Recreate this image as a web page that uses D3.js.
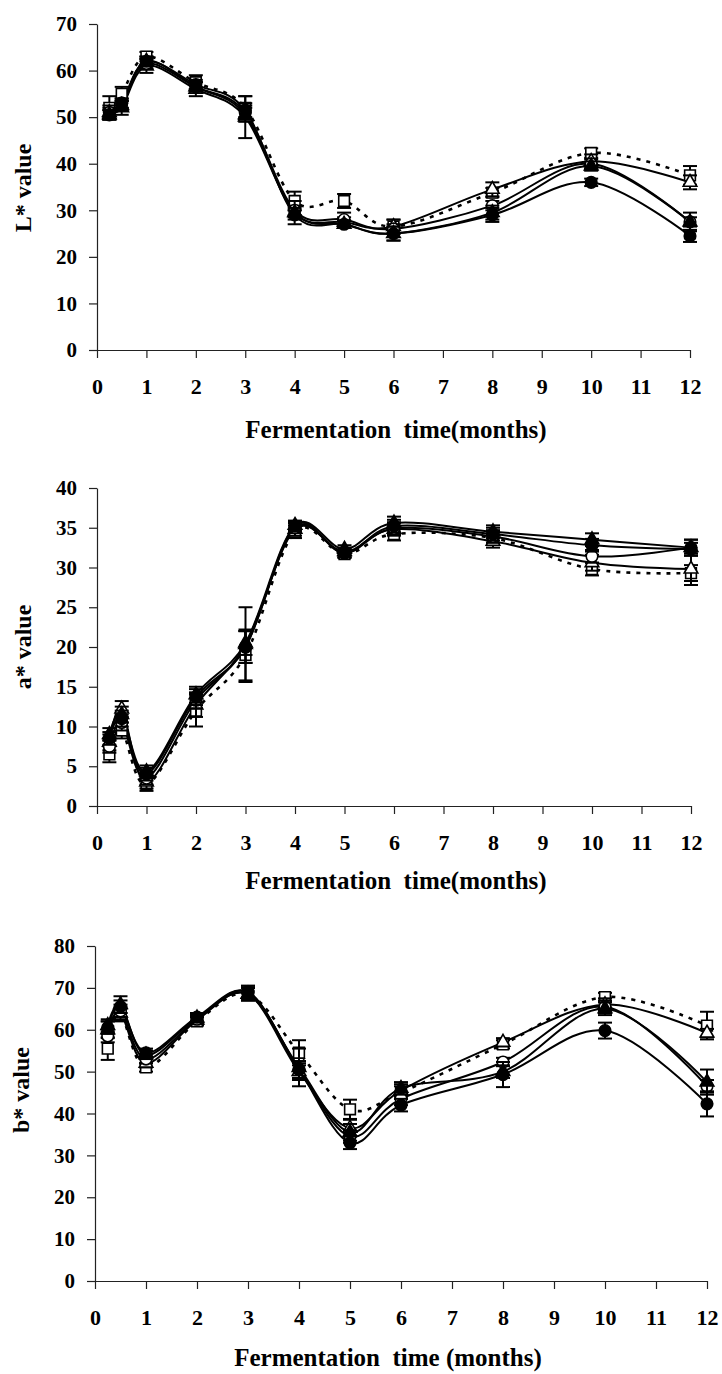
<!DOCTYPE html>
<html>
<head>
<meta charset="utf-8">
<script src="https://cdn.jsdelivr.net/npm/d3@7"></script>
<style>
body { margin: 0; background: #fff; }
</style>
</head>
<body>
<svg id="chart" width="722" height="1374"></svg>
<script>
// sampling times (months)
var months = [0.25, 0.5, 1, 2, 3, 4, 5, 6, 8, 10, 12];
var xTicks = [0, 1, 2, 3, 4, 5, 6, 7, 8, 9, 10, 11, 12];

// L* value
var L_ticks = [0, 10, 20, 30, 40, 50, 60, 70];
var L_fc = [50.5, 53, 62, 57, 51.5, 29, 27, 25, 29, 36, 24.5];
var L_oc = [51, 53, 61.5, 56.5, 51, 30, 28, 26, 31, 40, 27.5];
var L_ft = [50.5, 52.5, 62, 56.5, 50.5, 29.5, 27, 25, 29.5, 39.5, 27.5];
var L_ot = [51, 52, 61, 56, 50, 29.5, 27.5, 26.5, 34.5, 40.5, 36];
var L_os = [52, 55, 63, 57.5, 52, 32, 32, 26.5, 33.8, 42.3, 37.5];
var L_fc_err = [1, 1, 1, 1, 1.5, 1, 0.8, 1.5, 1.5, 0.8, 1.3];
var L_oc_err = [1, 1, 1, 1, 1.5, 1, 1.5, 1, 1, 1, 2];
var L_ft_err = [1, 1, 1, 1, 1.5, 1, 0.8, 1.5, 1.5, 1, 1];
var L_ot_err = [1.5, 1.5, 1.5, 1.5, 4.5, 2.5, 1, 1.5, 1.5, 1.5, 1.5];
var L_os_err = [2.5, 1.5, 1, 1.5, 2.5, 2, 1.5, 1.5, 1, 1, 2];

// a* value
var a_ticks = [0, 5, 10, 15, 20, 25, 30, 35, 40];
var a_fc = [8.5, 11, 4, 13.7, 20, 35.2, 31.8, 35.2, 34.2, 32.8, 32.3];
var a_oc = [7.5, 10.5, 3.5, 13.3, 20, 35, 31.8, 34.9, 33.9, 31.4, 32.5];
var a_ft = [9, 11.5, 4.3, 14, 20.5, 35.3, 32.3, 35.6, 34.5, 33.5, 32.5];
var a_ot = [8, 12.2, 3, 12.7, 20.3, 34.8, 32, 34.8, 33.3, 30.6, 29.8];
var a_os = [6.5, 9.5, 2.7, 12, 19, 34.5, 31.7, 34.2, 33.7, 29.8, 29.3];
var a_fc_err = [0.8, 1, 0.8, 1, 2, 0.6, 0.5, 0.8, 0.8, 0.8, 0.8];
var a_oc_err = [0.8, 1, 0.8, 1, 2, 0.6, 0.5, 0.8, 0.8, 0.8, 1];
var a_ft_err = [0.8, 1, 0.8, 1, 1.5, 0.6, 0.5, 0.8, 0.8, 0.8, 1];
var a_ot_err = [1, 1, 0.8, 1.5, 4.7, 0.8, 0.5, 0.8, 0.8, 1, 2];
var a_os_err = [1, 1, 0.8, 2, 3.2, 0.8, 0.5, 0.8, 0.8, 0.8, 1];

// b* value
var b_ticks = [0, 10, 20, 30, 40, 50, 60, 70, 80];
var b_fc = [60.5, 65.5, 54.5, 63, 69, 50.5, 33, 42, 49.3, 59.8, 42.3];
var b_oc = [58.5, 64.5, 53, 62.5, 69, 50.5, 34.5, 43.5, 52.3, 65.5, 46.5];
var b_ft = [61, 66, 54, 62.8, 68.5, 51, 35.5, 46, 50, 65, 47.5];
var b_ot = [60, 64, 52, 62.3, 68.5, 50, 36.5, 45.5, 57, 66, 59.2];
var b_os = [55.5, 63.5, 51, 62, 68.5, 54.5, 41, 45, 56.5, 67.8, 61];
var b_fc_err = [1.5, 1.5, 1, 1, 1.5, 2, 1.5, 1.5, 3, 1.9, 3];
var b_oc_err = [1.5, 1.5, 1, 1, 1.5, 2, 1.5, 1.5, 1, 1.5, 1.5];
var b_ft_err = [1.5, 2, 1, 1, 1.5, 4.5, 2, 1.5, 1.5, 1.5, 3];
var b_ot_err = [2, 1.5, 1, 1, 1.5, 2, 2, 1.5, 1, 1.5, 1];
var b_os_err = [2.7, 1.5, 1, 1, 1.5, 3, 2.3, 1.5, 1, 1, 3.3];

// marker styles: filled circle, open circle, filled triangle, open triangle, open square (dashed line)
var styles = {
    fc: {shape: d3.symbolCircle, size: 105, fill: "#000", dash: null},
    oc: {shape: d3.symbolCircle, size: 105, fill: "#fff", dash: null},
    ft: {shape: d3.symbolTriangle, size: 80, fill: "#000", dash: null},
    ot: {shape: d3.symbolTriangle, size: 80, fill: "#fff", dash: null},
    os: {shape: d3.symbolSquare, size: 115, fill: "#fff", dash: "4,6"}
};

var svg = d3.select("#chart");

function draw_panel(p) {
    var x = d3.scaleLinear().domain([0, 12]).range([p.left, p.right]);
    var y = d3.scaleLinear().domain([0, p.yMax]).range([p.bottom, p.top]);
    var g = svg.append("g");

    g.append("g")
        .attr("transform", "translate(0," + p.bottom + ")")
        .call(d3.axisBottom(x).tickValues(xTicks).tickSize(8).tickSizeOuter(0).tickPadding(20).tickFormat(d3.format("d")))
        .attr("font-family", "Liberation Serif")
        .attr("font-weight", "bold")
        .attr("font-size", 22);

    g.append("g")
        .attr("transform", "translate(" + p.left + ",0)")
        .call(d3.axisLeft(y).tickValues(p.yTicks).tickSize(8).tickSizeOuter(0).tickPadding(12).tickFormat(d3.format("d")))
        .attr("font-family", "Liberation Serif")
        .attr("font-weight", "bold")
        .attr("font-size", 21);
    g.selectAll(".domain, .tick line").attr("stroke", "#222").attr("stroke-width", 1.2);
    g.selectAll(".tick text").attr("fill", "#000");

    // smoothed lines (Excel style)
    var line = d3.line()
        .x(function(d, i) { return x(months[i]); })
        .y(function(d) { return y(d); })
        .curve(d3.curveCatmullRom.alpha(0));

    var keys = ["os", "ot", "oc", "ft", "fc"];
    keys.forEach(function(k) {
        g.append("path")
            .attr("d", line(p.series[k]))
            .attr("fill", "none")
            .attr("stroke", "#000")
            .attr("stroke-width", k == "os" ? 2.6 : 2)
            .attr("stroke-dasharray", styles[k].dash);
    });

    keys.forEach(function(k) {
        var vals = p.series[k], errs = p.errors[k];
        var eb = g.append("g").attr("stroke", "#000").attr("stroke-width", 2);
        vals.forEach(function(v, i) {
            var cx = x(months[i]);
            eb.append("line").attr("x1", cx).attr("x2", cx).attr("y1", y(v - errs[i])).attr("y2", y(v + errs[i]));
            eb.append("line").attr("x1", cx - 7).attr("x2", cx + 7).attr("y1", y(v - errs[i])).attr("y2", y(v - errs[i]));
            eb.append("line").attr("x1", cx - 7).attr("x2", cx + 7).attr("y1", y(v + errs[i])).attr("y2", y(v + errs[i]));
        });
        g.append("g").selectAll("path")
            .data(vals)
            .enter().append("path")
            .attr("transform", function(d, i) { return "translate(" + x(months[i]) + "," + y(d) + ")"; })
            .attr("d", d3.symbol().type(styles[k].shape).size(styles[k].size))
            .attr("fill", styles[k].fill)
            .attr("stroke", "#000")
            .attr("stroke-width", 1.6);
    });

    g.append("text")
        .attr("transform", "translate(" + p.yTitleX + "," + p.yTitleY + ") rotate(-90)")
        .attr("text-anchor", "middle")
        .attr("font-family", "Liberation Serif")
        .attr("font-weight", "bold")
        .attr("font-size", 24)
        .text(p.yTitle);

    g.append("text")
        .attr("x", p.xTitleX)
        .attr("y", p.xTitleY)
        .attr("text-anchor", "middle")
        .attr("font-family", "Liberation Serif")
        .attr("font-weight", "bold")
        .attr("font-size", 25)
        .attr("xml:space", "preserve")
        .style("white-space", "pre")
        .text(p.xTitle);
}

draw_panel({
    left: 97, right: 690, top: 24, bottom: 350, yMax: 70, yTicks: L_ticks,
    series: {fc: L_fc, oc: L_oc, ft: L_ft, ot: L_ot, os: L_os},
    errors: {fc: L_fc_err, oc: L_oc_err, ft: L_ft_err, ot: L_ot_err, os: L_os_err},
    yTitle: "L* value", yTitleX: 31, yTitleY: 188,
    xTitle: "Fermentation  time(months)", xTitleX: 396, xTitleY: 438
});
draw_panel({
    left: 97, right: 691, top: 488, bottom: 806, yMax: 40, yTicks: a_ticks,
    series: {fc: a_fc, oc: a_oc, ft: a_ft, ot: a_ot, os: a_os},
    errors: {fc: a_fc_err, oc: a_oc_err, ft: a_ft_err, ot: a_ot_err, os: a_os_err},
    yTitle: "a* value", yTitleX: 31, yTitleY: 647,
    xTitle: "Fermentation  time(months)", xTitleX: 396, xTitleY: 889
});
draw_panel({
    left: 95, right: 707, top: 946, bottom: 1281, yMax: 80, yTicks: b_ticks,
    series: {fc: b_fc, oc: b_oc, ft: b_ft, ot: b_ot, os: b_os},
    errors: {fc: b_fc_err, oc: b_oc_err, ft: b_ft_err, ot: b_ot_err, os: b_os_err},
    yTitle: "b* value", yTitleX: 29, yTitleY: 1090,
    xTitle: "Fermentation  time (months)", xTitleX: 388, xTitleY: 1366
});
</script>
</body>
</html>
